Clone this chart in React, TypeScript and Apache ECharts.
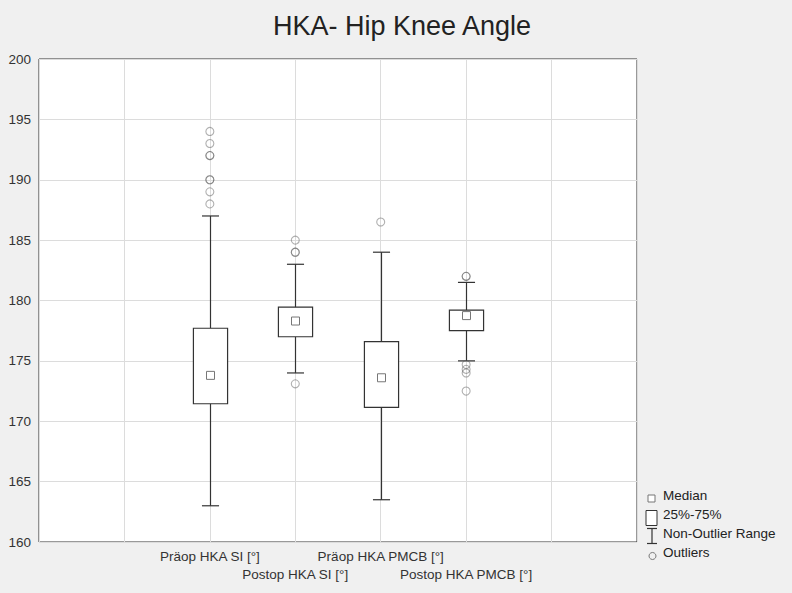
import React, { useEffect, useRef } from "react";
import * as echarts from "echarts";

const title = "HKA- Hip Knee Angle";
const categories = ["Präop HKA SI [°]", "Postop HKA SI [°]", "Präop HKA PMCB [°]", "Postop HKA PMCB [°]"];
const whiskerLow = [163, 174, 163.5, 175];
const q1 = [171.45, 177.0, 171.15, 177.5];
const median = [173.8, 178.3, 173.6, 178.75];
const q3 = [177.7, 179.45, 176.6, 179.2];
const whiskerHigh = [187, 183, 184, 181.5];
const outliers = [
  [194, 193, 192, 192, 190, 190, 189, 188],
  [185, 184, 184, 173.1],
  [186.5],
  [182, 182, 174.7, 174.3, 174.0, 172.5],
];
const yTicks = [160, 165, 170, 175, 180, 185, 190, 195, 200];
const legendLabels = ["Median", "25%-75%", "Non-Outlier Range", "Outliers"];

const FONT = "'Liberation Sans', Arial, sans-serif";

export default function App() {
  const ref = useRef<HTMLDivElement>(null);
  useEffect(() => {
    if (!ref.current) return;
    const chart = echarts.init(ref.current, undefined, { renderer: "svg" });
    const offset = 2; // first category sits at x = 2 on a 0..7 scale
    const boxData = categories.map((_, i) => [i + offset, whiskerLow[i], q1[i], median[i], q3[i], whiskerHigh[i]]);
    const outlierData: number[][] = [];
    outliers.forEach((arr, i) => arr.forEach((v) => outlierData.push([i + offset, v])));

    const lx = 652;
    const legendGraphics: any[] = [
      { type: "rect", shape: { x: 648, y: 495, width: 7, height: 7 }, style: { fill: "#fff", stroke: "#777", lineWidth: 1 } },
      { type: "rect", shape: { x: 646, y: 510.5, width: 11, height: 15 }, style: { fill: "#fff", stroke: "#333", lineWidth: 1 } },
      { type: "line", shape: { x1: lx, y1: 528.5, x2: lx, y2: 543.5 }, style: { stroke: "#333", lineWidth: 1.2 } },
      { type: "line", shape: { x1: 647, y1: 528.5, x2: 657, y2: 528.5 }, style: { stroke: "#333", lineWidth: 1.2 } },
      { type: "line", shape: { x1: 647, y1: 543.5, x2: 657, y2: 543.5 }, style: { stroke: "#333", lineWidth: 1.2 } },
      { type: "circle", shape: { cx: 652.5, cy: 556, r: 3.5 }, style: { fill: "none", stroke: "#777", lineWidth: 1 } },
    ];
    const ly = [495, 514, 533.5, 552.5];
    legendLabels.forEach((t, i) => {
      legendGraphics.push({
        type: "text",
        x: 663,
        y: ly[i],
        style: { text: t, fill: "#222", font: `13.5px ${FONT}`, textVerticalAlign: "middle", verticalAlign: "middle" },
      });
    });

    chart.setOption({
      animation: false,
      backgroundColor: "#f0f0f0",
      textStyle: { fontFamily: FONT },
      title: {
        text: title,
        left: 397,
        textAlign: "center",
        top: 7,
        textStyle: { fontSize: 27, fontWeight: "normal", color: "#222", fontFamily: FONT },
      },
      grid: {
        left: 39,
        right: 155,
        top: 59,
        bottom: 51,
        show: true,
        backgroundColor: "#fff",
        borderColor: "#333",
        borderWidth: 1,
      },
      xAxis: {
        type: "value",
        min: 0,
        max: 7,
        interval: 1,
        axisLine: { show: false },
        axisTick: { show: false },
        splitLine: { show: true, lineStyle: { color: "#dcdcdc", width: 1 } },
        axisLabel: {
          margin: 6,
          fontSize: 13.5,
          color: "#333",
          lineHeight: 17.5,
          fontFamily: FONT,
          formatter: (v: number) => {
            const i = Math.round(v) - offset;
            if (i < 0 || i >= categories.length) return "";
            return i % 2 === 0 ? categories[i] + "\n " : " \n" + categories[i];
          },
        },
      },
      yAxis: {
        type: "value",
        min: yTicks[0],
        max: yTicks[yTicks.length - 1],
        interval: 5,
        axisLine: { show: false },
        axisTick: { show: false },
        splitLine: { show: true, lineStyle: { color: "#dcdcdc", width: 1 } },
        axisLabel: { fontSize: 13.5, color: "#333", margin: 8, fontFamily: FONT },
      },
      graphic: legendGraphics,
      series: [
        {
          type: "custom",
          data: boxData,
          encode: { x: 0, y: [1, 2, 3, 4, 5] },
          renderItem: (params: any, api: any) => {
            const x = api.value(0);
            const pLow = api.coord([x, api.value(1)]);
            const pQ1 = api.coord([x, api.value(2)]);
            const pMed = api.coord([x, api.value(3)]);
            const pQ3 = api.coord([x, api.value(4)]);
            const pHigh = api.coord([x, api.value(5)]);
            const unit = api.size([1, 0])[0];
            const boxW = unit * 0.4;
            const capW = boxW / 2;
            const cx = Math.round(pLow[0]) + 0.5;
            const lineStyle = { stroke: "#333", lineWidth: 1.2, fill: null };
            const m = 8;
            return {
              type: "group",
              children: [
                { type: "line", shape: { x1: cx, y1: pHigh[1], x2: cx, y2: pQ3[1] }, style: lineStyle },
                { type: "line", shape: { x1: cx, y1: pQ1[1], x2: cx, y2: pLow[1] }, style: lineStyle },
                { type: "line", shape: { x1: cx - capW / 2, y1: pHigh[1], x2: cx + capW / 2, y2: pHigh[1] }, style: lineStyle },
                { type: "line", shape: { x1: cx - capW / 2, y1: pLow[1], x2: cx + capW / 2, y2: pLow[1] }, style: lineStyle },
                {
                  type: "rect",
                  shape: { x: cx - boxW / 2, y: pQ3[1], width: boxW, height: pQ1[1] - pQ3[1] },
                  style: { stroke: "#333", lineWidth: 1.2, fill: "#fff" },
                },
                {
                  type: "rect",
                  shape: { x: cx - m / 2, y: pMed[1] - m / 2, width: m, height: m },
                  style: { stroke: "#777", lineWidth: 1, fill: "#fff" },
                },
              ],
            };
          },
          z: 2,
        },
        {
          type: "scatter",
          data: outlierData,
          symbol: "circle",
          symbolSize: 8,
          itemStyle: { color: "rgba(0,0,0,0)", borderColor: "rgba(90,90,90,0.6)", borderWidth: 1.1 },
          z: 3,
        },
      ],
    });
    return () => chart.dispose();
  }, []);
  return <div ref={ref} style={{ position: "fixed", left: 0, top: 0, width: 792, height: 593 }} />;
}
